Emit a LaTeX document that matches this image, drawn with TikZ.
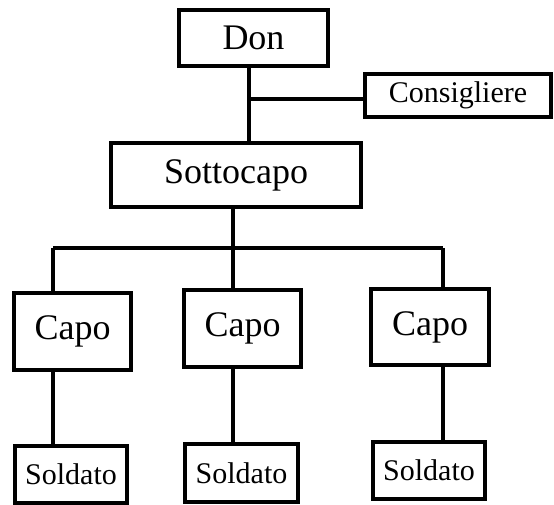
\documentclass[tikz,border=0pt]{standalone}
\usepackage{fontspec}
\setmainfont{Liberation Serif}
\usepackage{tikz}
\usetikzlibrary{positioning}

\tikzset{
  rank/.style={draw, line width=3.5pt, line join=miter, rectangle, inner sep=0pt,
    font=\fontsize{36}{40}\selectfont},
  small/.style={rank, font=\fontsize{30}{34}\selectfont},
  link/.style={line width=3.5pt}
}

\begin{document}
\begin{tikzpicture}[x=1pt, y=-1pt]
			\useasboundingbox (0, 0) rectangle (554, 505);

			\node[rank, minimum width=149pt, minimum height=56pt] (don) at (253.5, 38) {Don};
			\node[small, minimum width=186pt, minimum height=43pt] (consigliere) at (458, 95.5) {Consigliere};
			\node[rank, minimum width=250pt, minimum height=64pt] (sottocapo) at (236, 175) {Sottocapo};

			\node[rank, minimum width=117pt, minimum height=77pt] (capo1) at (72.5, 331.5) {Capo};
			\node[rank, minimum width=117pt, minimum height=77pt] (capo2) at (242.5, 328.5) {Capo};
			\node[rank, minimum width=118pt, minimum height=76pt] (capo3) at (430, 327) {Capo};

			\node[small, minimum width=112pt, minimum height=57pt] (soldato1) at (71, 474.5) {Soldato};
			\node[small, minimum width=113pt, minimum height=58pt] (soldato2) at (241.5, 473) {Soldato};
			\node[small, minimum width=112pt, minimum height=57pt] (soldato3) at (429, 470.5) {Soldato};

			\coordinate (split1) at (249, 99);
			\coordinate (split2) at (233, 248);
			\coordinate (branch1) at (53, 248);
			\coordinate (branch2) at (233, 248);
			\coordinate (branch3) at (443, 248);

			\draw [link] (don.south -| split1) to (sottocapo.north -| split1);
			\draw [link] (split1) to (consigliere.west |- split1);
			\draw [link] (sottocapo.south -| split2) to (split2);
			\draw [link] (branch1) to (branch3);

			\draw [link] (branch1) to (capo1.north -| branch1);
			\draw [link] (branch2) to (capo2.north -| branch2);
			\draw [link] (branch3) to (capo3.north -| branch3);

			\draw [link] (capo1.south -| branch1) to (soldato1.north -| branch1);
			\draw [link] (capo2.south -| branch2) to (soldato2.north -| branch2);
			\draw [link] (capo3.south -| branch3) to (soldato3.north -| branch3);
	\end{tikzpicture}
\end{document}
